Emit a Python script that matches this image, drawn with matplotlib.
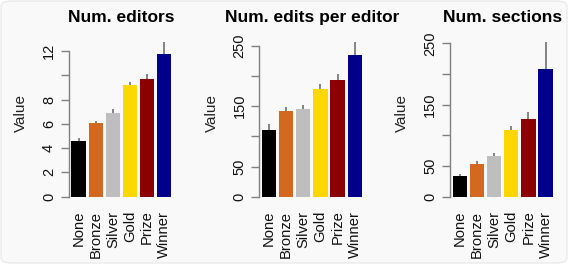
import matplotlib
matplotlib.use("Agg")
import matplotlib.pyplot as plt
from matplotlib.patches import FancyBboxPatch

plt.rcParams['font.family'] = ['Liberation Sans', 'DejaVu Sans']

categories = ["None", "Bronze", "Silver", "Gold", "Prize", "Winner"]
colors = ["#000000", "#D2691E", "#BEBEBE", "#FFD700", "#8B0000", "#00008B"]

titles = ["Num. editors", "Num. edits per editor", "Num. sections"]

editors_mean = [4.56, 6.04, 6.92, 9.17, 9.72, 11.75]
editors_upper = [4.80, 6.26, 7.25, 9.45, 10.10, 12.77]

edits_mean = [110.4, 141.4, 144.7, 178.3, 193.2, 234.0]
edits_upper = [120.4, 149.0, 151.3, 186.0, 203.0, 256.6]

sections_mean = [33.2, 53.3, 65.8, 108.8, 126.7, 208.3]
sections_upper = [37.0, 58.2, 71.2, 115.3, 137.6, 251.8]

yticks = [[0, 2, 4, 6, 8, 10, 12], [0, 50, 100, 150, 200, 250], [0, 50, 100, 150, 200, 250]]
yticklabels = [["0", "2", "4", "6", "8", "", "12"],
               ["0", "50", "", "150", "", "250"],
               ["0", "50", "", "150", "", "250"]]
ytops = [13.73, 276.0, 271.8]

means = [editors_mean, edits_mean, sections_mean]
uppers = [editors_upper, edits_upper, sections_upper]

W, H = 568, 264
fig = plt.figure(figsize=(W / 100, H / 100), dpi=100)
fig.patch.set_facecolor("white")
bg = FancyBboxPatch((1 / W, 1 / H), 1 - 2 / W, 1 - 2 / H,
                    boxstyle="round,pad=0,rounding_size=0.02",
                    transform=fig.transFigure, facecolor="#f9f9f9",
                    edgecolor="#e6e6e6", linewidth=0.8, zorder=-10)
fig.patches.append(bg)

lefts_px = [68.6, 259.0, 449.8]
ax_w_px = 105.7
bottom_px = 196.7
top_px = 30.0

for i in range(3):
    ax = fig.add_axes([lefts_px[i] / W, (H - bottom_px) / H,
                       ax_w_px / W, (bottom_px - top_px) / H])
    ax.set_facecolor("none")
    xs = [0.7 + 1.2 * k for k in range(6)]
    ax.bar(xs, means[i], width=1.0, color=colors, edgecolor="none", zorder=2)
    for x, m, u in zip(xs, means[i], uppers[i]):
        ax.plot([x, x], [m, u], color="#707070", linewidth=1.2, zorder=3,
                solid_capstyle="butt")
    ax.set_xlim(0, 7.4)
    ax.set_ylim(0, ytops[i])
    for s in ["top", "right", "bottom"]:
        ax.spines[s].set_visible(False)
    ax.spines["left"].set_color("#808080")
    ax.spines["left"].set_linewidth(1.0)
    ax.spines["left"].set_bounds(yticks[i][0], yticks[i][-1])
    ax.set_yticks(yticks[i])
    ax.set_yticklabels(yticklabels[i], rotation=90, va="center", fontsize=10.5)
    ax.tick_params(axis="y", length=6, color="#808080", width=1.0, pad=3,
                   labelcolor="#111111")
    ax.set_xticks(xs)
    ax.set_xticklabels(categories, rotation=90, fontsize=10.6, color="#111111")
    ax.tick_params(axis="x", length=0, pad=10)
    ax.set_ylabel("Value", fontsize=11, color="#222222", labelpad=10)
    ax.set_title(titles[i], fontsize=12.5, fontweight="bold", pad=6)

fig.savefig("out.png", dpi=100, facecolor=fig.get_facecolor())
